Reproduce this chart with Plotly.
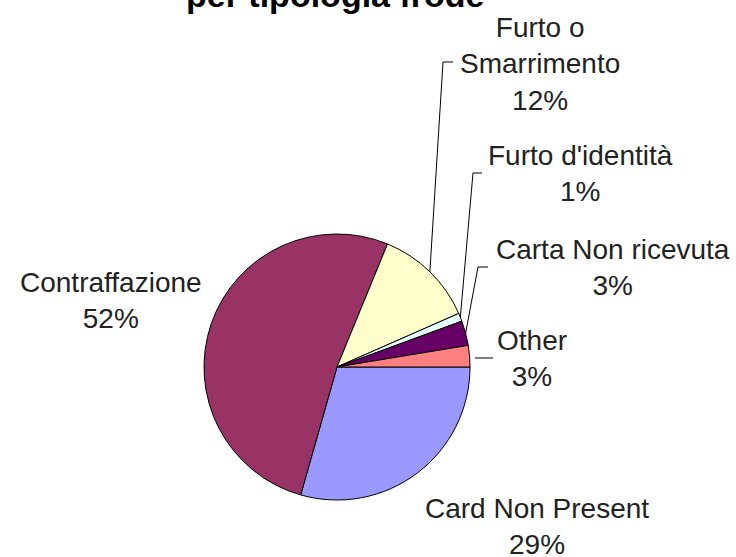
import math
import plotly.graph_objects as go

# ---- data ----
categories = ["Card Non Present", "Contraffazione", "Furto o Smarrimento",
              "Furto d'identità", "Carta Non ricevuta", "Other"]
label_text = ["Card Non Present<br>29%", "Contraffazione<br>52%",
              "Furto o<br>Smarrimento<br>12%", "Furto d'identità<br>1%",
              "Carta Non ricevuta<br>3%", "Other<br>3%"]
values = [29.4, 51.8, 12.2, 1.0, 3.0, 2.6]
colors = ["#9999FF", "#993366", "#FFFFCC", "#E8FFFF", "#660066", "#FF8080"]
title_text = "per tipologia frode"

W, H = 736, 557
CX, CY, R = 337, 367, 133


def px(x):
    return x / W


def py(y):
    return 1 - y / H


fig = go.Figure()
fig.add_trace(go.Pie(
    labels=categories, values=values, sort=False, direction="clockwise",
    rotation=90, textinfo="none", hoverinfo="label+percent",
    marker=dict(colors=colors, line=dict(color="black", width=1)),
    domain=dict(x=[px(CX - R), px(CX + R)], y=[py(CY + R), py(CY - R)]),
    showlegend=False,
))

# label positions (pixel centres) -- layout
label_pos = [(537, 526), (111, 300), (540, 64), (580, 174), (613, 267), (532, 358)]
font = dict(family="Liberation Sans, Arial", size=28, color="#222222")
for txt, (x, y) in zip(label_text, label_pos):
    fig.add_annotation(x=px(x), y=py(y), xref="paper", yref="paper", text=txt,
                       showarrow=False, font=font, xanchor="center", yanchor="middle")

# leader lines: from slice mid-angle on the edge to an elbow near the label
total = sum(values)
cum = 0
mids = []
for v in values:
    mids.append((cum + v / 2) / total * 360)
    cum += v

elbows = {2: ((443, 62), (453, 62)), 3: ((473, 173), (482, 173)),
          4: ((478, 267), (488, 267))}
for i, (elb, end) in elbows.items():
    a = math.radians(mids[i])
    ex, ey = CX + R * math.cos(a), CY + R * math.sin(a)
    path = f"M {px(ex)} {py(ey)} L {px(elb[0])} {py(elb[1])} L {px(end[0])} {py(end[1])}"
    fig.add_shape(type="path", path=path, xref="paper", yref="paper",
                  line=dict(color="black", width=1))
# Other: short horizontal tick
fig.add_shape(type="line", x0=px(475), y0=py(358), x1=px(493), y1=py(358),
              xref="paper", yref="paper", line=dict(color="black", width=1))

# title, mostly cut off at the top
fig.add_annotation(x=px(335), y=1, xref="paper", yref="paper", text=f"<b>{title_text}</b>",
                   showarrow=False, font=dict(family="Liberation Sans, Arial", size=34, color="#000000"),
                   xanchor="center", yanchor="bottom", yshift=-16)

fig.update_layout(width=W, height=H, margin=dict(l=0, r=0, t=0, b=0),
                  paper_bgcolor="white", plot_bgcolor="white")
fig.write_html("out.html", post_script="document.body.style.margin='0';",
               config={"displayModeBar": False})
